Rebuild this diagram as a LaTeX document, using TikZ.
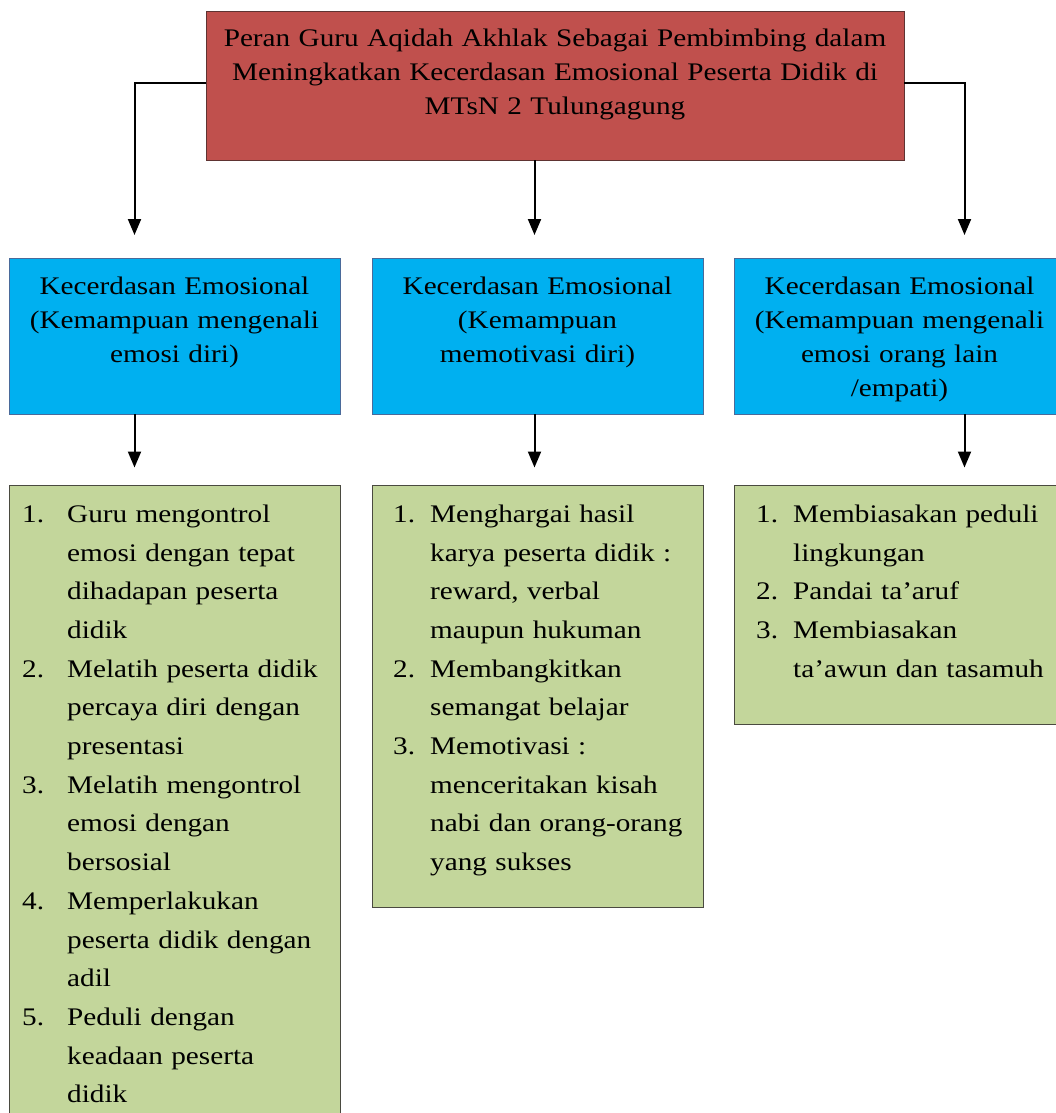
\documentclass[tikz,border=0pt]{standalone}
\usepackage{fontspec}
\setmainfont[FakeStretch=1.155]{Liberation Serif}
\usetikzlibrary{arrows.meta}
\definecolor{redfill}{HTML}{C0504D}
\definecolor{redline}{HTML}{5E3332}
\definecolor{bluefill}{HTML}{00B0F0}
\definecolor{blueline}{HTML}{4A6A9A}
\definecolor{greenfill}{HTML}{C3D69B}
\definecolor{greenline}{HTML}{4A4A40}
\tikzset{
  boxbase/.style={rectangle, inner sep=0pt, outer sep=0pt, anchor=north west, line width=1pt},
  redbox/.style={boxbase, fill=redfill, draw=redline},
  bluebox/.style={boxbase, fill=bluefill, draw=blueline, minimum width=331pt, minimum height=156pt},
  greenbox/.style={boxbase, fill=greenfill, draw=greenline, minimum width=331pt},
  headtxt/.style={inner sep=0pt, align=center, anchor=base, font=\fontsize{25.3}{34}\selectfont},
  listtxt/.style={inner sep=0pt, text width=330pt, align=left, anchor=base west, font=\fontsize{25.3}{38.7}\selectfont},
  conn/.style={line width=2pt, -{Triangle[length=16pt,width=13pt]}},
}
\newcommand{\itA}[1]{\makebox[45pt][l]{#1}}
\newcommand{\inA}{\hspace*{45pt}}
\newcommand{\itB}[1]{\makebox[37pt][l]{#1}}
\newcommand{\inB}{\hspace*{37pt}}
\begin{document}
\begin{tikzpicture}[x=1pt,y=-1pt]
\useasboundingbox (0,0) rectangle (1056,1113);
% boxes
\node[redbox, minimum width=698pt, minimum height=148pt] (red) at (206,12) {};
\node[bluebox] (b1) at (9,258) {};
\node[bluebox] (b2) at (372,258) {};
\node[bluebox] (b3) at (734,258) {};
\node[greenbox, minimum height=650pt] (g1) at (9,485) {};
\node[greenbox, minimum height=422pt] (g2) at (372,485) {};
\node[greenbox, minimum height=239pt] (g3) at (734,485) {};
% texts
\node[headtxt, text width=690pt] (redt) at ([yshift=-34.4pt]red.north) {Peran Guru Aqidah Akhlak Sebagai Pembimbing dalam\\Meningkatkan Kecerdasan Emosional Peserta Didik di\\MTsN 2 Tulungagung};
\node[headtxt, text width=325pt] (b1t) at ([yshift=-36.3pt]b1.north) {Kecerdasan Emosional\\(Kemampuan mengenali\\emosi diri)};
\node[headtxt, text width=325pt] (b2t) at ([yshift=-36.3pt]b2.north) {Kecerdasan Emosional\\(Kemampuan\\memotivasi diri)};
\node[headtxt, text width=325pt] (b3t) at ([yshift=-36.3pt]b3.north) {Kecerdasan Emosional\\(Kemampuan mengenali\\emosi orang lain\\/empati)};
\node[listtxt] (g1t) at (22,522.3) {\itA{1.}Guru mengontrol\\\inA emosi dengan tepat\\\inA dihadapan peserta\\\inA didik\\\itA{2.}Melatih peserta didik\\\inA percaya diri dengan\\\inA presentasi\\\itA{3.}Melatih mengontrol\\\inA emosi dengan\\\inA bersosial\\\itA{4.}Memperlakukan\\\inA peserta didik dengan\\\inA adil\\\itA{5.}Peduli dengan\\\inA keadaan peserta\\\inA didik};
\node[listtxt] (g2t) at (393,522.3) {\itB{1.}Menghargai hasil\\\inB karya peserta didik :\\\inB reward, verbal\\\inB maupun hukuman\\\itB{2.}Membangkitkan\\\inB semangat belajar\\\itB{3.}Memotivasi :\\\inB menceritakan kisah\\\inB nabi dan orang-orang\\\inB yang sukses};
\node[listtxt] (g3t) at (756,522.3) {\itB{1.}Membiasakan peduli\\\inB lingkungan\\\itB{2.}Pandai ta’aruf\\\itB{3.}Membiasakan\\\inB ta’awun dan tasamuh};
% arrow ends
\coordinate (e1) at (134.5,235);
\coordinate (e2) at (534.5,235);
\coordinate (e3) at (964.5,235);
\coordinate (f1) at (134.5,467.5);
\coordinate (f2) at (534.5,467.5);
\coordinate (f3) at (964.5,467.5);
% connectors
\draw[conn] ([yshift=3.3pt]red.west) -| (e1);
\draw[conn] (red.south -| e2) -- (e2);
\draw[conn] ([yshift=3.3pt]red.east) -| (e3);
\draw[conn] (b1.south -| f1) -- (f1);
\draw[conn] (b2.south -| f2) -- (f2);
\draw[conn] (b3.south -| f3) -- (f3);
\end{tikzpicture}
\end{document}
